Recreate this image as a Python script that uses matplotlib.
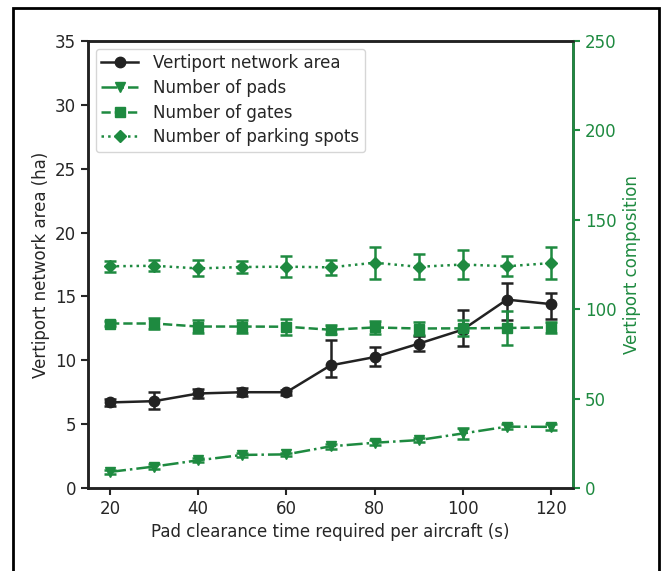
import matplotlib
matplotlib.use("Agg")
import matplotlib.pyplot as plt
from matplotlib.patches import Rectangle
from matplotlib.lines import Line2D
import numpy as np

clearance = [20, 30, 40, 50, 60, 70, 80, 90, 100, 110, 120]

area = [6.7, 6.8, 7.4, 7.5, 7.5, 9.6, 10.25, 11.3, 12.4, 14.75, 14.4]
area_err_lo = [0.3, 0.6, 0.35, 0.3, 0.2, 0.9, 0.7, 0.55, 1.3, 1.6, 1.2]
area_err_hi = [0.3, 0.7, 0.35, 0.3, 0.2, 2.0, 0.8, 0.6, 1.55, 1.3, 0.9]

pads = [9, 12, 15.5, 18.5, 18.8, 23.3, 25.3, 26.8, 30.5, 34.3, 34.2]
pads_err = [1.0, 1.2, 1.2, 1.0, 1.0, 1.5, 1.3, 1.3, 3.0, 1.5, 1.5]

gates = [92, 92, 90.3, 90.3, 90.2, 88.5, 89.8, 89.2, 89.3, 89.5, 89.8]
gates_err = [1.5, 3.0, 3.5, 3.5, 4.5, 2.5, 3.5, 3.5, 4.5, 9.5, 3.0]

parking = [124, 124.3, 122.8, 123.6, 123.8, 123.4, 126, 123.7, 125, 124, 125.8]
parking_err = [3.0, 3.0, 4.5, 3.5, 6.0, 4.0, 9.0, 7.0, 8.0, 5.5, 9.0]

labels = ['Vertiport network area', 'Number of pads', 'Number of gates',
          'Number of parking spots']

DARK = "#222222"
GREEN = "#1e8a40"
TXT = "#262626"
FS = 12

plt.rcParams['font.family'] = ['DejaVu Sans']
plt.rcParams['font.size'] = FS

fig = plt.figure(figsize=(6.63, 5.71), dpi=100)
ax = fig.add_axes([88/663, 1-488/571, (573-88)/663, (488-41)/571])
ax2 = ax.twinx()

kw = dict(capsize=4, elinewidth=1.8, capthick=1.8, linewidth=1.8)
ax.errorbar(clearance, area, yerr=[area_err_lo, area_err_hi], color=DARK,
            marker='o', markersize=7.5, linestyle='-', **kw)
ax2.errorbar(clearance, pads, yerr=pads_err, color=GREEN, marker='v',
             markersize=7, linestyle='-.', **kw)
ax2.errorbar(clearance, gates, yerr=gates_err, color=GREEN, marker='s',
             markersize=7, linestyle='--', **kw)
ax2.errorbar(clearance, parking, yerr=parking_err, color=GREEN, marker='D',
             markersize=6.5, linestyle=':', **kw)

ax.set_xlim(15, 125)
ax.set_ylim(0, 35)
ax2.set_ylim(0, 250)
ax.set_xticks([20, 40, 60, 80, 100, 120])
ax.set_yticks(np.arange(0, 36, 5))
ax2.set_yticks(np.arange(0, 251, 50))

ax.set_xlabel('Pad clearance time required per aircraft (s)', color=TXT, fontsize=FS,
              labelpad=3.5)
ax.set_ylabel('Vertiport network area (ha)', color=TXT, fontsize=FS, labelpad=3.5)
ax2.set_ylabel('Vertiport composition', color=GREEN, fontsize=FS, labelpad=5)

for a in (ax, ax2):
    for s in a.spines.values():
        s.set_linewidth(1.8)
        s.set_color(DARK)
ax2.spines['right'].set_color(GREEN)
ax.tick_params(axis='both', colors=TXT, width=1.5, length=5, labelsize=FS)
ax2.tick_params(axis='y', colors=GREEN, width=1.5, length=5, labelsize=FS)

handles = [
    Line2D([], [], color=DARK, marker='o', markersize=7.5, linestyle='-', linewidth=1.8),
    Line2D([], [], color=GREEN, marker='v', markersize=7, linestyle='-.', linewidth=1.8),
    Line2D([], [], color=GREEN, marker='s', markersize=7, linestyle='--', linewidth=1.8),
    Line2D([], [], color=GREEN, marker='D', markersize=6.5, linestyle=':', linewidth=1.8),
]
leg = ax.legend(handles, labels, loc='upper left', fontsize=FS, frameon=True,
                borderaxespad=0.45, handlelength=2.2, labelspacing=0.4,
                borderpad=0.35, handletextpad=0.9)
for t in leg.get_texts():
    t.set_color(TXT)

fig.patches.append(Rectangle((13/663, -0.1), (659-13)/663, 1.1 - 8/571,
                             transform=fig.transFigure, fill=False,
                             edgecolor='black', linewidth=2, clip_on=False))

fig.savefig('out.png', dpi=100)
